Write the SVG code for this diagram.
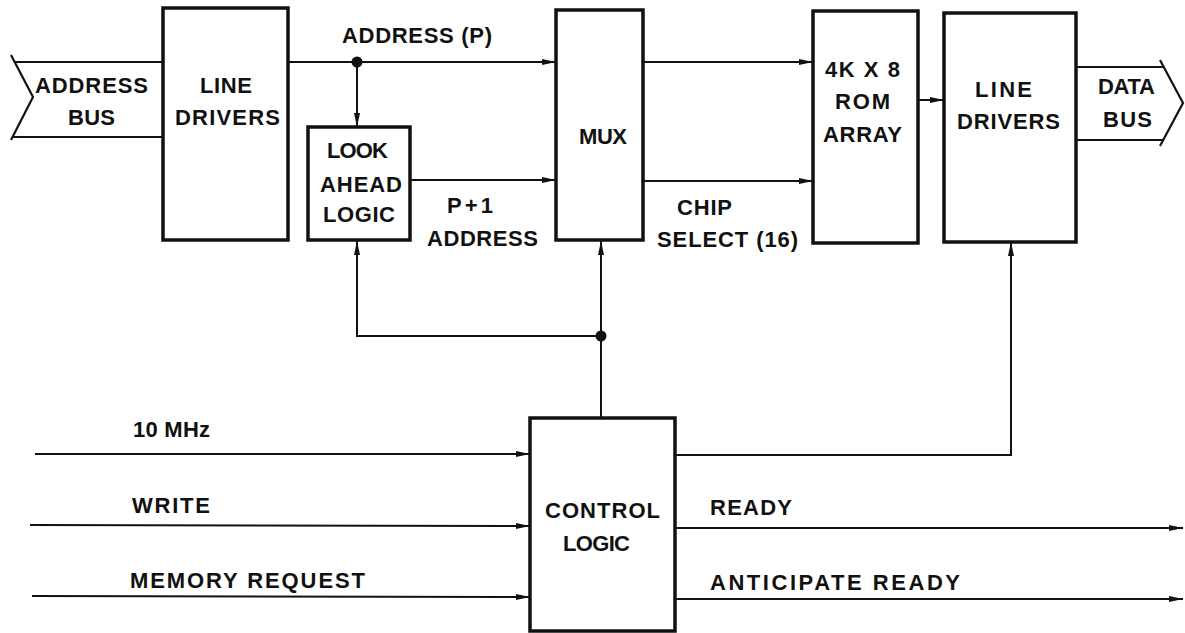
<svg xmlns="http://www.w3.org/2000/svg" width="1185" height="633" viewBox="0 0 1185 633">
<style>
.box{fill:#fff;stroke:#111;stroke-width:3.5}
.bus{fill:none;stroke:#111;stroke-width:2.2}
.w{fill:none;stroke:#111;stroke-width:2}
.a{marker-end:url(#ah)}
text{font-family:"Liberation Sans","Arial",sans-serif;font-weight:bold;font-size:22px;fill:#111}
</style>
<defs>
<marker id="ah" markerUnits="userSpaceOnUse" markerWidth="16" markerHeight="8" refX="14" refY="4" orient="auto">
<path d="M0,1 L14,4 L0,7 Z" fill="#111"/>
</marker>
</defs>
<rect width="1185" height="633" fill="#fff"/>

<g id="address-bus">
<polyline class="bus" points="11,55 33,97 11,140"/>
<line class="bus" x1="14" y1="62" x2="163" y2="62"/>
<line class="bus" x1="12" y1="137" x2="163" y2="137"/>
<text x="35" y="93" textLength="113" lengthAdjust="spacing">ADDRESS</text>
<text x="68" y="125" textLength="47" lengthAdjust="spacing">BUS</text>
</g>

<g id="data-bus">
<line class="bus" x1="1076" y1="67" x2="1163" y2="67"/>
<line class="bus" x1="1076" y1="140" x2="1163" y2="140"/>
<polyline class="bus" points="1160,60 1183,103 1160,146"/>
<text x="1098" y="94" textLength="57" lengthAdjust="spacing">DATA</text>
<text x="1103" y="127" textLength="49" lengthAdjust="spacing">BUS</text>
</g>

<g id="line-drivers-in">
<rect class="box" x="163" y="8" width="125" height="232"/>
<text x="200" y="93" textLength="52" lengthAdjust="spacing">LINE</text>
<text x="175" y="125" textLength="105" lengthAdjust="spacing">DRIVERS</text>
</g>

<g id="look-ahead">
<rect class="box" x="308" y="127" width="102" height="113"/>
<text x="327" y="158" textLength="61" lengthAdjust="spacing">LOOK</text>
<text x="320" y="192" textLength="82" lengthAdjust="spacing">AHEAD</text>
<text x="323" y="222" textLength="72" lengthAdjust="spacing">LOGIC</text>
</g>

<g id="mux">
<rect class="box" x="556" y="10" width="87" height="230"/>
<text x="579" y="144" textLength="48" lengthAdjust="spacing">MUX</text>
</g>

<g id="rom">
<rect class="box" x="813" y="11" width="105" height="232"/>
<text x="825" y="77" textLength="75" lengthAdjust="spacing">4K X 8</text>
<text x="835" y="109" textLength="55" lengthAdjust="spacing">ROM</text>
<text x="823" y="142" textLength="79" lengthAdjust="spacing">ARRAY</text>
</g>

<g id="line-drivers-out">
<rect class="box" x="944" y="13" width="132" height="229"/>
<text x="975" y="97" textLength="57" lengthAdjust="spacing">LINE</text>
<text x="957" y="129" textLength="103" lengthAdjust="spacing">DRIVERS</text>
</g>

<g id="control-logic">
<rect class="box" x="530" y="418" width="145" height="213"/>
<text x="545" y="518" textLength="115" lengthAdjust="spacing">CONTROL</text>
<text x="563" y="551" textLength="67" lengthAdjust="spacing">LOGIC</text>
</g>

<g id="connectors">
<line class="w a" x1="288" y1="62" x2="556" y2="62"/>
<circle cx="357" cy="62" r="5.5" fill="#111"/>
<line class="w a" x1="357" y1="62" x2="357" y2="127"/>
<line class="w a" x1="410" y1="180" x2="556" y2="180"/>
<line class="w a" x1="643" y1="62" x2="813" y2="62"/>
<line class="w a" x1="643" y1="181" x2="813" y2="181"/>
<line class="w a" x1="918" y1="100" x2="944" y2="100"/>
<line class="w" x1="601" y1="418" x2="601" y2="336"/>
<circle cx="601" cy="336" r="5.5" fill="#111"/>
<line class="w a" x1="601" y1="336" x2="601" y2="241"/>
<polyline class="w a" points="601,336 357,336 357,241"/>
<polyline class="w a" points="675,455 1011,455 1011,242"/>
<line class="w a" x1="35" y1="454" x2="530" y2="454"/>
<line class="w a" x1="30" y1="525" x2="530" y2="526"/>
<line class="w a" x1="32" y1="596" x2="530" y2="597"/>
<line class="w a" x1="675" y1="528" x2="1183" y2="528"/>
<line class="w a" x1="675" y1="599" x2="1183" y2="599"/>
</g>

<g id="labels">
<text x="342" y="43" textLength="150" lengthAdjust="spacing">ADDRESS (P)</text>
<text x="447" y="213" textLength="46" lengthAdjust="spacing">P+1</text>
<text x="427" y="246" textLength="111" lengthAdjust="spacing">ADDRESS</text>
<text x="677" y="215" textLength="55" lengthAdjust="spacing">CHIP</text>
<text x="657" y="247" textLength="141" lengthAdjust="spacing">SELECT (16)</text>
<text x="133" y="437" textLength="77" lengthAdjust="spacing">10 MHz</text>
<text x="132" y="513" textLength="78" lengthAdjust="spacing">WRITE</text>
<text x="130" y="588" textLength="235" lengthAdjust="spacing">MEMORY REQUEST</text>
<text x="710" y="515" textLength="82" lengthAdjust="spacing">READY</text>
<text x="710" y="590" textLength="250" lengthAdjust="spacing">ANTICIPATE READY</text>
</g>
</svg>
